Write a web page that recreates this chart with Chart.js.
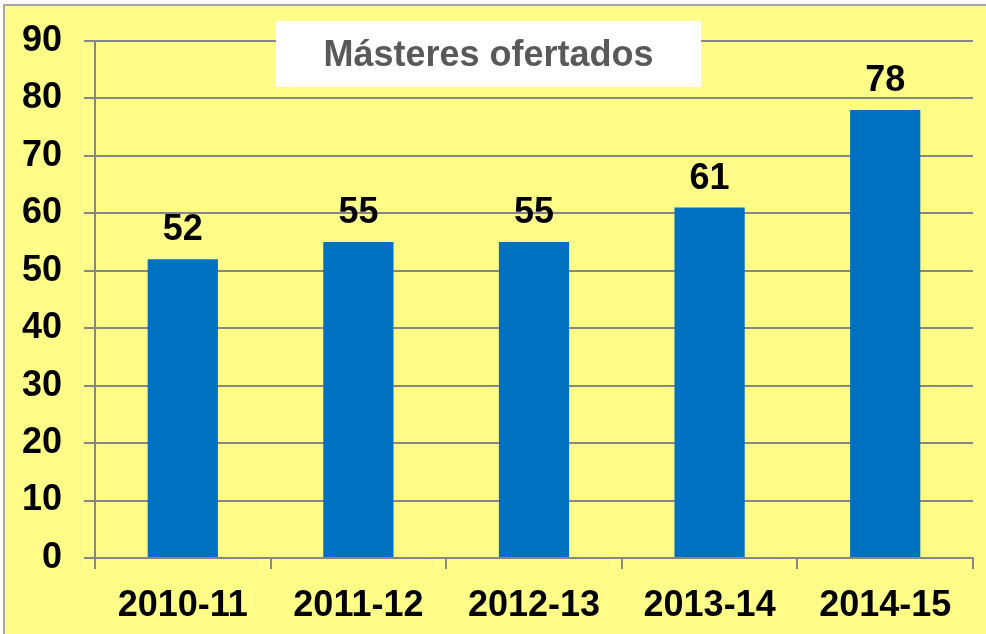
<!DOCTYPE html>
<html>
<head>
<meta charset="utf-8">
<script src="https://cdn.jsdelivr.net/npm/chart.js@4/dist/chart.umd.min.js"></script>
<style>
html,body{margin:0;padding:0;background:#fff;}
#wrap{width:986px;height:634px;position:relative;}
</style>
</head>
<body>
<div id="wrap"><canvas id="c" width="986" height="634"></canvas></div>
<script>
const categories = ["2010-11", "2011-12", "2012-13", "2013-14", "2014-15"];
const values = [52, 55, 55, 61, 78];
const yTicks = [0, 10, 20, 30, 40, 50, 60, 70, 80, 90];
const titleText = "Másteres ofertados";

const FONT = "'Liberation Sans', Arial, sans-serif";
const GRID = "#878787";

const bgPlugin = {
  id: 'bg',
  beforeDraw(chart) {
    const ctx = chart.ctx;
    ctx.save();
    ctx.fillStyle = '#ffffff';
    ctx.fillRect(0, 0, chart.width, chart.height);
    ctx.fillStyle = '#FFFD88';
    ctx.fillRect(4, 5, chart.width, chart.height);
    ctx.strokeStyle = '#a6a6a6';
    ctx.lineWidth = 2;
    ctx.strokeRect(4, 5, chart.width + 20, chart.height + 20);
    ctx.restore();
  },
  afterDatasetsDraw(chart) {
    const ctx = chart.ctx;
    const meta = chart.getDatasetMeta(0);
    ctx.save();
    ctx.font = "bold 36px " + FONT;
    ctx.fillStyle = '#000';
    ctx.textAlign = 'center';
    ctx.textBaseline = 'alphabetic';
    meta.data.forEach((bar, i) => {
      ctx.fillText(String(chart.data.datasets[0].data[i]), bar.x, bar.y - 19);
    });
    ctx.restore();
  },
  afterDraw(chart) {
    const ctx = chart.ctx;
    ctx.save();
    ctx.fillStyle = '#ffffff';
    ctx.fillRect(276, 21, 425, 66);
    ctx.font = "bold 36px " + FONT;
    ctx.fillStyle = '#595959';
    ctx.textAlign = 'center';
    ctx.textBaseline = 'alphabetic';
    ctx.fillText(titleText, 488.5, 66);
    ctx.restore();
  }
};

new Chart(document.getElementById('c'), {
  type: 'bar',
  data: {
    labels: categories,
    datasets: [{
      data: values,
      backgroundColor: '#0070C0',
      borderWidth: 0,
      barPercentage: 0.4,
      categoryPercentage: 1.0
    }]
  },
  options: {
    responsive: false,
    animation: false,
    devicePixelRatio: 1,
    layout: { padding: { top: 41, right: 13, left: 0, bottom: 0 } },
    plugins: { legend: { display: false }, title: { display: false }, tooltip: { enabled: false } },
    scales: {
      x: {
        offset: true,
        grid: { display: true, offset: true, drawOnChartArea: false, drawTicks: true, tickLength: 11, color: GRID, lineWidth: 2 },
        border: { display: true, color: GRID, width: 2 },
        ticks: { color: '#000', font: { family: FONT, size: 36, weight: 'bold' }, padding: 15, maxRotation: 0, autoSkip: false },
        afterFit(scale) { scale.height = 76; scale.paddingLeft = 0; scale.paddingRight = 0; }
      },
      y: {
        min: 0,
        max: 90,
        afterBuildTicks(scale) { scale.ticks = yTicks.map(v => ({ value: v })); },
        grid: { display: true, drawTicks: true, tickLength: 11, color: GRID, lineWidth: 2 },
        border: { display: true, color: GRID, width: 2 },
        ticks: { color: '#000', font: { family: FONT, size: 36, weight: 'bold' }, padding: 22 },
        afterFit(scale) { scale.width = 95; scale.paddingTop = 0; scale.paddingBottom = 0; }
      }
    }
  },
  plugins: [bgPlugin]
});
</script>
</body>
</html>
